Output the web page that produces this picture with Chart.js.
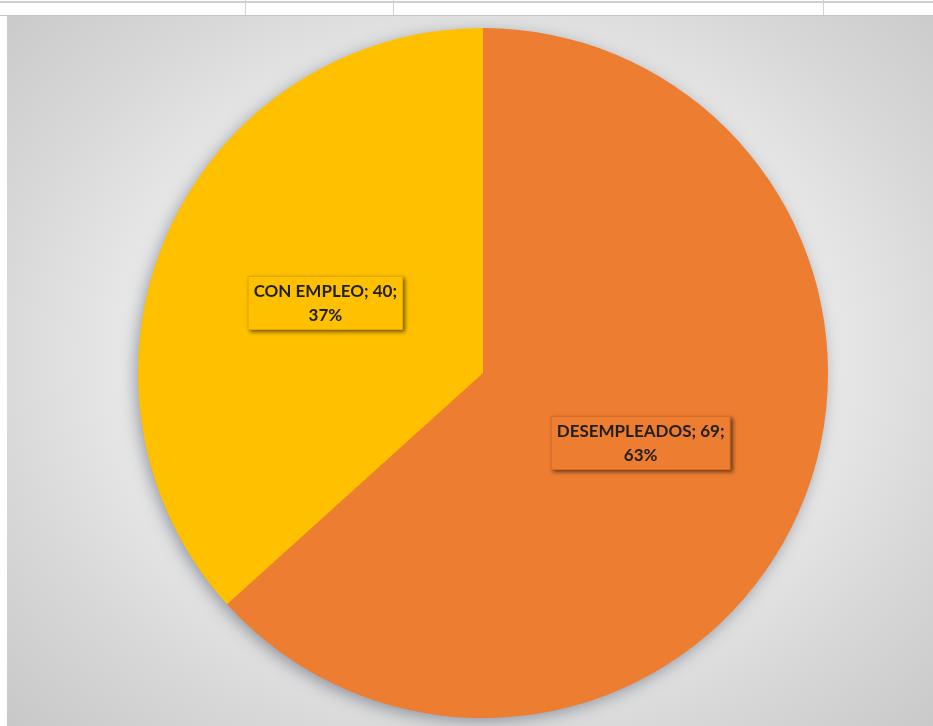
<!DOCTYPE html>
<html>
<head>
<meta charset="utf-8">
<script src="https://cdn.jsdelivr.net/npm/chart.js@4/dist/chart.umd.min.js"></script>
<style>
  html, body { margin: 0; padding: 0; background: #fff; }
  body { width: 933px; height: 726px; position: relative; overflow: hidden; }
  /* bande de grille du tableur au-dessus du graphique */
  .grid-h { position: absolute; left: 0; width: 933px; height: 1px; background: #c6c6c6; }
  .grid-v { position: absolute; top: 0; width: 1px; height: 15px; background: #d2d2d2; }
  #zone {
    position: absolute; left: 7px; top: 16px; width: 926px; height: 710px;
    background: radial-gradient(ellipse 75% 80% at 51% 48%, #ffffff 0%, #f4f4f4 35%, #d8d8d8 70%, #c4c4c4 100%);
  }
  #zone canvas { position: absolute; left: 0; top: 0; }
</style>
</head>
<body>
<div class="grid-h" style="top:1px;height:2px;background:#cfcfcf"></div>
<div class="grid-h" style="top:15px"></div>
<div class="grid-v" style="left:245px"></div>
<div class="grid-v" style="left:393px"></div>
<div class="grid-v" style="left:823px"></div>
<div id="zone"><canvas id="chart" width="926" height="710"></canvas></div>
<script>
// -------------------------------
// DONNEES
// -------------------------------
const categories = ['DESEMPLEADOS', 'CON EMPLEO'];
const valores = [69, 40];
const colores = ['#ED7D31', '#FFC000'];

const total = valores.reduce((a, b) => a + b, 0);

// ombre douce autour du disque
const ombrePie = {
    id: 'ombrePie',
    beforeDatasetsDraw(chart) {
        const arc = chart.getDatasetMeta(0).data[0];
        if (!arc) return;
        const ctx = chart.ctx;
        ctx.save();
        ctx.shadowColor = 'rgba(60, 70, 90, 0.5)';
        ctx.shadowBlur = 16;
        ctx.shadowOffsetX = -3;
        ctx.shadowOffsetY = 4;
        ctx.fillStyle = colores[0];
        ctx.beginPath();
        ctx.arc(arc.x, arc.y, arc.outerRadius - 1, 0, Math.PI * 2);
        ctx.fill();
        ctx.restore();
    }
};

// etiquettes "categorie; valeur; pourcentage" dans des cadres
const etiquettes = {
    id: 'etiquettes',
    afterDatasetsDraw(chart) {
        const ctx = chart.ctx;
        const meta = chart.getDatasetMeta(0);
        ctx.save();
        ctx.font = 'bold 17px Lato, "Open Sans", sans-serif';
        ctx.textAlign = 'center';
        ctx.textBaseline = 'middle';
        meta.data.forEach((arc, i) => {
            const pos = arc.tooltipPosition();
            const pct = Math.round(valores[i] / total * 100) + '%';
            const lignes = [categories[i] + '; ' + valores[i] + ';', pct];
            const lh = 24;
            const w = Math.max(...lignes.map(l => ctx.measureText(l).width)) + 12;
            const h = lh * 2 + 6;
            const x = pos.x - w / 2;
            const y = pos.y - h / 2;

            ctx.save();
            ctx.shadowColor = 'rgba(0, 0, 0, 0.55)';
            ctx.shadowBlur = 4;
            ctx.shadowOffsetX = 2;
            ctx.shadowOffsetY = 2;
            ctx.fillStyle = colores[i];
            ctx.fillRect(x, y, w, h);
            ctx.restore();
            ctx.strokeStyle = 'rgba(0, 0, 0, 0.12)';
            ctx.lineWidth = 1;
            ctx.strokeRect(x + 0.5, y + 0.5, w - 1, h - 1);

            ctx.fillStyle = '#1f1f1f';
            ctx.fillText(lignes[0], pos.x, y + 4 + lh / 2);
            ctx.fillText(lignes[1], pos.x, y + 4 + lh * 1.5);
        });
        ctx.restore();
    }
};

new Chart(document.getElementById('chart'), {
    type: 'pie',
    data: {
        labels: categories,
        datasets: [{
            data: valores,
            backgroundColor: colores,
            borderWidth: 0
        }]
    },
    options: {
        responsive: false,
        animation: false,
        layout: { padding: { left: 131, right: 105, top: 12, bottom: 8 } },
        plugins: {
            legend: { display: false },
            tooltip: { enabled: false }
        }
    },
    plugins: [ombrePie, etiquettes]
});
</script>
</body>
</html>
